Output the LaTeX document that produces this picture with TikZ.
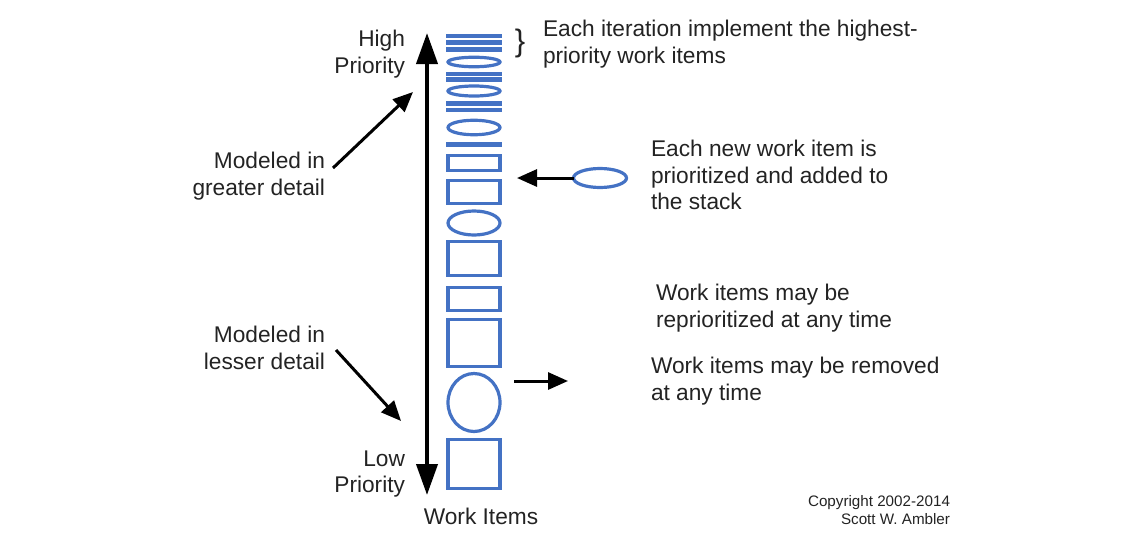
\documentclass[tikz,border=0pt]{standalone}
\usepackage{fontspec}
\setmainfont{Liberation Sans}
\usepackage{xcolor}
\usepackage{tikz}
\usetikzlibrary{arrows.meta,shapes.geometric,positioning}

\definecolor{itemblue}{RGB}{68,114,196}
\definecolor{inkgray}{RGB}{35,35,35}

\begin{document}
\begin{tikzpicture}[
				x = 1pt, y = -1pt,
				every node/.style = {inner sep = 0pt, outer sep = 0pt, text = inkgray,
					font = \fontsize{22.7}{26.5}\selectfont},
				note/.style = {align = left, anchor = north west},
				side/.style = {align = right, anchor = north east},
				stripe/.style = {fill = itemblue, minimum width = 56, minimum height = 4.2},
				wibox/.style = {draw = itemblue, line width = 3.2pt, minimum width = 52},
				wiell/.style = {wibox, ellipse},
				prio/.style = {line width = 4pt, {Triangle[length=31pt,width=21pt]}-{Triangle[length=31pt,width=21pt]}},
				ptr/.style = {line width = 3pt, -{Triangle[length=20pt,width=17pt]}}
			]

			\useasboundingbox (0,0) rectangle (1134,538);

			% priority axis
			\coordinate (top) at (427,33);
			\coordinate (bot) at (427,495);
			\draw[prio] (top) -- (bot);
			\node[side] (high) at (405,30.5) {High\\Priority};
			\node[side] (low) at (405,450.5) {Low\\Priority};
			\node[anchor = north] (stackname) at (481,508.5) {Work Items};

			% the stack, highest priority first
			\foreach \y [count = \i] in {36,42.5,49.5,74,79.5,103.5,110}
				\node[stripe] (s\i) at (474,\y) {};
			\node[stripe, minimum height = 5.5] (s8) at (474,144.5) {};
			\node[wiell, minimum height = 9.5] (e1) at (474,62) {};
			\node[wiell, minimum height = 10] (e2) at (474,91) {};
			\node[wiell, minimum height = 14.5] (e3) at (474,127.5) {};
			\node[wibox, minimum height = 15] (r1) at (474,163) {};
			\node[wibox, minimum height = 22.5] (r2) at (474,192) {};
			\node[wiell, minimum height = 24] (e4) at (474,223) {};
			\node[wibox, minimum height = 34] (r3) at (474,258.5) {};
			\node[wibox, minimum height = 23] (r4) at (474,299) {};
			\node[wibox, minimum height = 47] (r5) at (474,343) {};
			\node[wiell, minimum height = 58] (e5) at (474,402.5) {};
			\node[wibox, minimum height = 49] (r6) at (474,464) {};

			% iteration
			\node[font = \fontsize{31}{31}\selectfont] (brace) at (520,43) {\}};
			\node[note] (iter) at (543,20.5) {Each iteration implement the highest-\\priority work items};

			% detail
			\node[side] (greater) at (325,152.5) {Modeled in\\greater detail};
			\coordinate (hiTail) at (333,168);
			\coordinate (hiTip) at (413,92);
			\draw[ptr] (hiTail) -- (hiTip);

			\node[side] (lesser) at (325,326.5) {Modeled in\\lesser detail};
			\coordinate (loTail) at (336,350);
			\coordinate (loTip) at (401,421);
			\draw[ptr] (loTail) -- (loTip);

			% new item
			\node[wiell, minimum width = 53, minimum height = 19] (newitem) at (600,178) {};
			\coordinate (slot) at (517,178);
			\draw[ptr] (newitem) -- (slot);
			\node[note] (added) at (651,140.5) {Each new work item is\\prioritized and added to\\the stack};

			\node[note] (reprio) at (656,284.5) {Work items may be\\reprioritized at any time};

			% removal
			\coordinate (out) at (514,381);
			\coordinate (gone) at (568,381);
			\draw[ptr] (out) -- (gone);
			\node[note] (removed) at (651,357.5) {Work items may be removed\\at any time};

			\node[side, font = \fontsize{15.2}{18}\selectfont] (copy) at (950,495.5) {Copyright 2002-2014\\Scott W. Ambler};

			\end{tikzpicture}
\end{document}
